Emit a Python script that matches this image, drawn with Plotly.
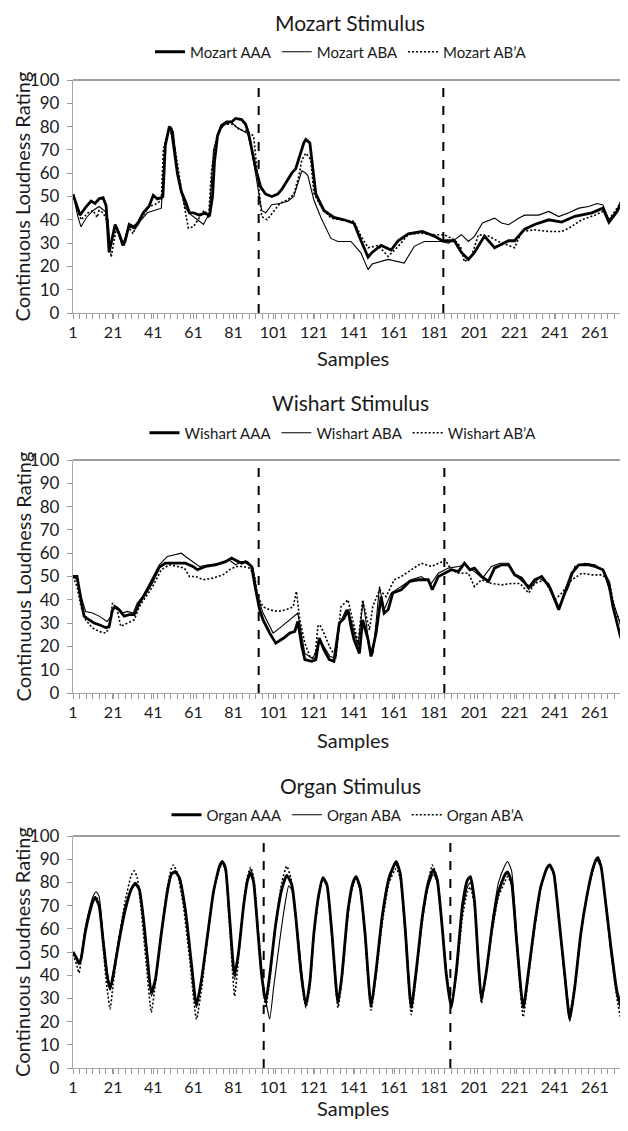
import plotly.graph_objects as go

# ---------------- DATA ----------------
mozart_aaa_x = [1, 3, 4.5, 7, 10, 12, 14, 16, 17.5, 19, 20, 22, 24, 26, 27, 29, 31, 33, 36, 39, 41, 43, 45, 45.8, 47, 49, 50, 51.5, 53, 55, 57, 59, 61, 64, 67, 69, 70.5, 71.5, 73, 75, 77.5, 80, 82, 85, 87, 88.5, 90, 92, 94.5, 97, 100, 103, 105, 107, 110, 112, 114, 116, 117, 119, 120.5, 122, 126, 131, 136, 141, 144.5, 148, 150, 154.5, 159.5, 163, 168, 175, 181, 185, 191, 194.5, 198, 201, 206, 211, 218, 221, 226, 231, 238, 244.5, 251, 259.5, 265, 268, 272, 275, 278.5]
mozart_aaa_y = [51, 46, 42, 45, 48, 47, 49, 49.5, 46, 26, 30, 38, 34, 29, 31, 38, 37, 38, 43, 46, 50.5, 49, 49.5, 50, 72, 80, 79, 70, 60, 52, 48, 43, 43, 42, 43, 41.5, 50, 65, 76, 80.5, 82, 82, 83.5, 83, 81, 77, 70, 62, 54, 51, 50, 51, 53, 56, 60, 62, 68, 73, 74.5, 73, 62, 51, 44, 41, 40, 38.5, 31, 24, 26, 29, 27, 31, 34, 35, 33, 31, 31, 26, 23, 26, 33, 28, 31, 31, 36, 38, 40, 39, 41.5, 43, 45, 39, 43.5, 48.5, 40]

mozart_aba_x = [1, 3.5, 5, 7.7, 11, 14, 17, 18.5, 19.5, 22, 25.5, 29, 32, 35, 38, 41, 45, 46, 47, 49, 51, 52.5, 54, 57, 60, 63, 66, 69, 70, 71, 74, 77, 80, 82, 86, 88, 90, 93, 95, 97, 100, 104, 108, 111, 113, 115, 117, 118, 121, 124.5, 129.5, 133, 139.5, 144.5, 148, 150, 158, 163, 166, 171, 176, 184.5, 188, 191, 194.5, 198, 201, 205, 211, 214.5, 218, 223, 226, 233, 238, 243, 248, 253, 258, 262, 265, 268, 272, 275, 278.5]
mozart_aba_y = [51, 41, 37, 41, 44, 45.7, 43.6, 40, 28, 38, 29, 37, 36, 40, 43, 44, 45, 60, 73.5, 79, 78, 65, 55, 45, 42, 40, 38, 43, 55, 70, 79, 81, 82, 80, 78, 77, 70, 55, 44, 43, 46.5, 47, 48, 50, 56, 61, 60, 59, 48.5, 41, 32, 30.7, 30.7, 25.7, 18.6, 21, 23, 22, 21.4, 28.6, 30.7, 30.7, 30, 31.4, 33.6, 30.7, 32.9, 38.6, 40.7, 38.6, 37.9, 40.7, 42, 42, 43.6, 41.4, 43, 45, 45.7, 47, 46.4, 40, 44, 50.7, 44]

mozart_abpa_x = [1, 5, 8.5, 11, 13, 14, 16, 17.7, 20, 22.7, 26, 28.5, 31, 32.7, 36, 39, 43, 45, 46, 49, 51.8, 55, 57.7, 58.5, 61, 64.3, 66, 68.5, 70, 72.7, 76, 81, 84, 87.7, 91, 92.7, 95, 97.7, 101, 104, 108, 111, 113.5, 115, 117, 119.5, 121, 124.5, 129.5, 136, 141, 144.5, 148, 153, 158, 163, 168, 174.5, 181, 186, 191, 194, 196, 199.5, 203, 208, 213, 221, 224.5, 231, 238, 244.5, 248, 254.5, 261, 265, 268, 272, 275, 278.5]
mozart_abpa_y = [51, 40, 43, 44, 41, 44, 43, 40, 24, 37, 29, 37, 34, 38.6, 42, 45.7, 47, 48.6, 70, 80, 71, 53, 40, 36.4, 37, 41, 43.6, 41, 61, 76, 81, 81, 78.6, 78, 76, 61, 41.4, 40, 43.6, 47, 48.6, 51, 58.6, 65.7, 68.6, 65.7, 51.4, 45.7, 40.7, 40, 39.3, 33, 28, 29, 24.3, 28.6, 33.6, 34.3, 33.6, 33.6, 31.4, 28.6, 22, 24.3, 33.6, 33, 30.7, 28, 35, 35.7, 35, 35, 36.4, 40, 42, 43.6, 40, 45, 49, 41.4]

wishart_aaa_x = [1, 3, 5, 6.5, 8, 11.5, 14, 17.5, 19, 20.7, 22, 24, 26.5, 29, 31.5, 34, 36.5, 40, 44, 47, 52, 57, 60.7, 63, 67, 72, 77, 80, 82, 85, 87, 90, 92, 94, 95.7, 99, 102, 106, 109, 111.5, 113, 115, 116.5, 120, 122, 123.7, 126, 128.7, 131, 133.7, 136, 138, 139.5, 141, 143.7, 145.3, 148, 149.5, 152, 154.5, 156, 158, 160.3, 164.5, 168.7, 173, 178, 180, 183, 186, 189.5, 193, 196, 198.7, 201, 204.5, 208, 211, 214.5, 218, 221, 224.5, 228, 231, 234.5, 238.7, 243, 246, 249.5, 253, 258, 261, 265, 268, 270, 273.7, 278]
wishart_aaa_y = [50, 50, 40, 33, 32, 30, 29.3, 28, 28.6, 35.7, 37, 35.7, 33, 33.6, 33.6, 38.6, 42, 47, 54, 55.7, 55.7, 55.7, 54.3, 52.9, 54.3, 55, 56.4, 57.9, 57, 55.7, 56.4, 54.3, 44.3, 35.7, 31.4, 25.7, 21.4, 23.6, 25.7, 26.4, 30.7, 20, 14.3, 13.6, 14.3, 23.6, 18.6, 14.3, 13.6, 30, 32, 35.7, 28.6, 22.9, 17, 31.4, 22.9, 15.7, 25.7, 41.4, 34.3, 35.7, 42.9, 44.3, 47.9, 48.6, 48.6, 44.3, 50, 51.4, 52.9, 52.1, 55.7, 52.9, 53.6, 50, 47.9, 53.6, 55, 55, 50.7, 49.3, 45, 48.6, 50, 45, 35.7, 42.9, 51.4, 55, 55, 54.3, 52.9, 47, 37, 24.3, 14.3]

wishart_aba_x = [1, 3, 5, 7.3, 10.7, 14, 18, 20, 21.5, 23, 25.7, 28, 31, 33, 35.7, 40, 44, 48, 51.5, 55, 57, 60.7, 64, 69, 74, 79, 82, 85, 88, 90.7, 93, 95.7, 98, 100.7, 105, 109, 111.5, 113, 115, 116.5, 120, 121, 124, 129, 132, 133.7, 137, 139.5, 143, 145.5, 148.7, 150.5, 153.7, 156, 159.5, 164.5, 169.5, 174.5, 179.5, 183, 188, 193, 196, 201, 205, 209.5, 213.7, 218, 222, 226, 229.5, 233, 238, 243, 248, 251, 256, 261, 265, 268.7, 273, 278]
wishart_aba_y = [50, 48.6, 41.4, 35, 34.3, 33, 30.7, 33, 37, 37, 34.3, 35, 34.3, 38.6, 41.4, 48.6, 55, 58.6, 59.3, 60, 58.6, 56.4, 54.3, 55, 55.7, 57, 55, 56.4, 56.4, 53.6, 41.4, 34.3, 30, 25.7, 28.6, 31.4, 32.9, 34.3, 24.3, 17, 15, 15.7, 22.9, 15.7, 15, 29.3, 35.7, 31.4, 20, 39.3, 20, 17, 45.7, 35.7, 42.9, 45.7, 48.6, 50, 47, 51.4, 53.6, 54.3, 55, 52.1, 49.3, 54.3, 55.7, 55.7, 50, 47, 45.7, 49.3, 47, 37, 45.7, 54.3, 55.7, 55, 52.9, 42.9, 31.4, 15.7]

wishart_abpa_x = [1, 3, 5, 7.3, 10.7, 14, 17.3, 19, 20.7, 23, 24.8, 28, 31.5, 34, 37.3, 40.7, 45, 49, 53, 56.5, 59, 62.3, 65.7, 70.7, 75.7, 79, 82.3, 85.7, 89, 91.5, 93, 95.7, 99, 103, 107, 110.7, 112.3, 114, 116.5, 119, 121.5, 123, 124, 126, 129.5, 132, 134.5, 138, 140.3, 143, 145.3, 148.7, 150.3, 153.7, 157, 161, 164.5, 169.5, 174.5, 179.5, 183, 186.5, 189.5, 193, 198, 201, 204.5, 209.5, 214.5, 219.5, 223.7, 228, 231, 236, 241, 244.5, 249.5, 254.5, 259.5, 264.5, 268, 271, 274.5, 278.5]
wishart_abpa_y = [50, 45.7, 37, 31.4, 27.9, 26.4, 25.7, 27.9, 38.6, 35.7, 28.6, 30, 31.4, 37, 41.4, 45.7, 52.9, 55, 54.3, 53.6, 50, 50, 48.6, 49.3, 50.7, 52.9, 54.3, 54.3, 53.6, 50, 41.4, 37, 35.7, 35, 35.7, 37, 43.6, 31.4, 21.4, 15.7, 14.3, 28.6, 29.3, 25.7, 18.6, 15.7, 37, 40, 31.4, 21.4, 40, 27, 37, 44.3, 41.4, 48.6, 50, 52.9, 55.7, 54.3, 55.7, 57, 52.9, 51.4, 51.4, 45.7, 48.6, 47, 46.4, 47, 47, 42.9, 47, 48.6, 40, 42.9, 48.6, 51.4, 50.7, 50.7, 48.6, 35.7, 28.6, 22]

organ_aaa_x = [1, 3, 4, 5, 7, 9, 11, 12, 14, 16, 18, 19.5, 21, 24, 27, 30, 32, 34, 36, 38, 40, 42, 45, 48, 50, 52, 54, 57, 60, 62.5, 65, 68, 71, 74, 75.5, 77, 79, 81.5, 83.5, 86, 88, 89.5, 91, 93, 95, 97, 99, 102, 105, 107.5, 110, 112, 114.5, 117, 119, 121, 123.5, 125.5, 127.5, 130, 133, 135, 138, 140.5, 142, 144, 146.5, 149.5, 152, 155, 158.5, 162, 164, 166.5, 169.5, 172, 175, 178, 180.5, 182.5, 185, 187, 189.5, 192, 195, 197.5, 199, 201, 203, 204.5, 207, 210, 213, 216, 217.5, 219.5, 222, 225.3, 228, 231, 234, 237, 238.5, 240.5, 243, 246, 248.5, 251, 254, 257, 260, 262, 264, 266, 269, 272, 274.5, 276.5, 278.5]
organ_aaa_y = [50, 47, 45, 47, 58, 66, 72, 73.5, 70, 55, 40, 34, 40, 55, 68, 77, 79.5, 77, 65, 48, 32.5, 38, 58, 76, 83.5, 84.5, 82, 68, 45, 27, 38, 57, 76, 87, 89, 86, 65, 40, 50, 70, 81, 84, 80, 60, 40, 28.5, 40, 62, 77, 83, 79, 65, 42, 27, 37, 58, 75, 82, 79, 58, 28, 40, 68, 80, 82.5, 78, 58, 26.5, 42, 65, 82, 89, 84, 60, 26, 42, 65, 80, 85.5, 81, 60, 40, 26, 42, 70, 81, 82.5, 72, 45, 29.5, 42, 62, 76, 83, 84.5, 80, 55, 26, 42, 62, 78, 86, 87.5, 84, 65, 40, 21, 35, 58, 74, 86, 90.5, 87, 74, 52, 33, 26, 35, 48]

organ_aba_x = [1, 3, 4, 5, 7, 9, 11, 12.5, 14, 16, 18, 19.5, 21, 24, 27, 30, 32, 34, 36, 38, 40, 42, 45, 48, 50, 52, 54, 57, 60, 62.5, 65, 68, 71, 74, 75.5, 77, 79, 81.5, 83.5, 86, 88, 89.5, 91, 93, 95, 97.5, 99, 101, 104, 106.5, 108.5, 110.5, 113, 117, 119, 121, 123.5, 125.5, 127.5, 130, 133, 135, 138, 140.5, 142, 144, 146.5, 149.5, 152, 155, 158.5, 161.5, 163.5, 166.5, 169.5, 172, 175, 178, 180.5, 182.5, 185, 187, 189.5, 192, 195, 197.5, 199, 201, 203, 204.5, 207, 210, 213, 216, 217.5, 219.5, 222, 225.3, 228, 231, 234, 237, 238.5, 240.5, 243, 246, 248.5, 251, 254, 257, 260, 262.5, 264, 266, 269, 272, 274.5, 276.5, 278.5]
organ_aba_y = [50, 47, 45, 48, 60, 68, 74, 76, 74, 57, 42, 35, 41, 57, 70, 77, 80, 78, 66, 49, 31, 37, 58, 77, 84, 85, 82, 68, 44, 26, 38, 57, 76, 87, 88.5, 85, 64, 38, 50, 71, 82, 85.5, 81, 60, 40, 27, 21, 35, 55, 70, 78.5, 76, 58, 27.5, 37, 58, 75, 81, 79, 58, 29, 40, 67, 79, 82, 78, 58, 27, 42, 66, 83, 88, 85, 62, 27, 42, 64, 78, 83.5, 80, 60, 40, 27, 42, 68, 78, 80, 72, 46, 28, 42, 64, 80, 87, 89, 85, 58, 27, 42, 62, 78, 86, 87.5, 84, 65, 38, 20, 34, 57, 74, 86, 91, 88, 74, 50, 32, 24, 34, 48]

organ_abpa_x = [1, 3, 4, 5, 7, 9, 11, 12.5, 14, 16, 18, 19.5, 21, 24, 27, 30, 31.5, 33, 35, 37.5, 40, 42, 45, 48, 50, 51, 53, 56, 59, 62.5, 65, 68, 71, 74, 75.5, 77, 79, 81.5, 83.5, 86, 88, 89.5, 91, 93, 95, 97, 99, 102, 105, 107.5, 109.5, 112, 114.5, 117, 119, 121, 123.5, 125.5, 127.5, 130, 133, 135, 138, 140.5, 142, 144, 146.5, 149.5, 152, 155, 158.5, 162, 164, 166.5, 169.5, 172, 175, 178, 180, 182.5, 185, 187, 189.5, 192, 195, 197.5, 199, 201, 203, 204.5, 207, 210, 213, 216, 217.5, 219.5, 222, 225.3, 228, 231, 234, 237, 238.5, 240.5, 243, 246, 248.5, 251, 254, 257, 260, 262.5, 264, 266, 269, 272, 274.5, 276.5, 278.5]
organ_abpa_y = [49, 44, 41, 46, 58, 66, 72, 74, 71, 52, 34, 25.5, 36, 56, 72, 83, 85, 82, 68, 45, 24, 36, 58, 78, 86, 87.5, 84, 70, 48, 21, 34, 56, 76, 86, 88.5, 85, 62, 31, 48, 71, 83, 86.5, 82, 62, 42, 26, 38, 62, 80, 87, 82, 64, 40, 26, 35, 57, 74, 81.5, 78, 56, 26, 38, 66, 79, 81.5, 77, 56, 25, 40, 62, 80, 86, 82, 58, 23, 40, 63, 80, 87.5, 82, 60, 42, 28, 40, 65, 76, 78, 70, 44, 28, 42, 60, 74, 80, 82.5, 79, 54, 22, 40, 60, 77, 86, 87, 83, 64, 40, 24, 36, 58, 74, 85, 91, 88, 74, 50, 30, 19.5, 30, 46]

x_tick_vals = [1, 21, 41, 61, 81, 101, 121, 141, 161, 181, 201, 221, 241, 261]
y_tick_vals = [0, 10, 20, 30, 40, 50, 60, 70, 80, 90, 100]

mozart_breaks = [93.5, 185.5]
wishart_breaks = [93.5, 186]
organ_breaks = [96, 189]

titles = ["Mozart Stimulus", "Wishart Stimulus", "Organ Stimulus"]
names = [["Mozart AAA", "Mozart ABA", "Mozart AB\u2019A"],
         ["Wishart AAA", "Wishart ABA", "Wishart AB\u2019A"],
         ["Organ AAA", "Organ ABA", "Organ AB\u2019A"]]

# ---------------- FIGURE ----------------
W, H = 628, 1131
OFF = 8          # page body margin of the html page
FONT = "Lato"
TXT = "#1a1a1a"


def py(v):
    """reference pixel row -> paper fraction"""
    return 1 - (v - OFF) / H


def px(v):
    """reference pixel column -> paper fraction"""
    return (v - OFF) / W


panels = [
    dict(data=[(mozart_aaa_x, mozart_aaa_y), (mozart_aba_x, mozart_aba_y), (mozart_abpa_x, mozart_abpa_y)],
         breaks=mozart_breaks, top=80, bottom=313, title_y=19, legend_y=52, legend_x=341, xlab_y=358,
         right_border=False, smooth=False),
    dict(data=[(wishart_aaa_x, wishart_aaa_y), (wishart_aba_x, wishart_aba_y), (wishart_abpa_x, wishart_abpa_y)],
         breaks=wishart_breaks, top=460, bottom=693, title_y=402, legend_y=433, legend_x=343, xlab_y=740,
         right_border=False, smooth=False),
    dict(data=[(organ_aaa_x, organ_aaa_y), (organ_aba_x, organ_aba_y), (organ_abpa_x, organ_abpa_y)],
         breaks=organ_breaks, top=836, bottom=1068, title_y=785, legend_y=815, legend_x=348, xlab_y=1108,
         right_border=True, smooth=True),
]

styles = [dict(color="black", width=2.8, dash="solid"),
          dict(color="black", width=1.1, dash="solid"),
          dict(color="black", width=1.6, dash="2px,2px")]

fig = go.Figure()
layout = dict(width=W, height=H, margin=dict(l=0, r=0, t=0, b=0, pad=0, autoexpand=False),
              paper_bgcolor="white", plot_bgcolor="white",
              font=dict(family=FONT, color=TXT), shapes=[], annotations=[])

for i, p in enumerate(panels):
    k = "" if i == 0 else str(i + 1)
    xa, ya = "x" + k, "y" + k
    lg = "legend" + k
    for j, (xs, ys) in enumerate(p["data"]):
        ln = dict(styles[j])
        if p["smooth"]:
            ln.update(shape="spline", smoothing=0.5)
        fig.add_trace(go.Scatter(x=xs, y=ys, mode="lines", name=names[i][j],
                                 line=ln, xaxis=xa, yaxis=ya, legend=lg,
                                 hoverinfo="skip"))
    dom = [py(p["bottom"]), py(p["top"])]
    layout["xaxis" + k] = dict(domain=[px(73), px(628)], range=[1, 277.5], anchor=ya,
                               tickmode="array", tickvals=x_tick_vals,
                               ticks="outside", ticklen=5, tickcolor="#999",
                               showline=True, linecolor="#a6a6a6", linewidth=1.3,
                               showgrid=False, zeroline=False, automargin=False,
                               tickfont=dict(size=16, color=TXT, family=FONT),
                               minor=dict(tickmode="linear", tick0=1, dtick=3.25,
                                          ticks="outside", ticklen=5, tickcolor="#999",
                                          showgrid=False),
                               fixedrange=True)
    layout["yaxis" + k] = dict(domain=dom, range=[0, 100], anchor=xa,
                               tickmode="array", tickvals=y_tick_vals,
                               ticks="outside", ticklen=5, tickcolor="#999",
                               showline=True, linecolor="#a6a6a6", linewidth=1.3,
                               showgrid=False, zeroline=False, automargin=False,
                               tickfont=dict(size=17, color=TXT, family=FONT),
                               ticklabelstandoff=4, fixedrange=True)
    layout[lg] = dict(orientation="h", x=px(p["legend_x"]), xanchor="center",
                      y=py(p["legend_y"]), yanchor="middle",
                      font=dict(size=15, color=TXT, family=FONT),
                      itemwidth=30, bgcolor="rgba(0,0,0,0)",
                      tracegroupgap=0)
    layout["shapes"].append(dict(type="line", xref=xa + " domain", yref=ya + " domain",
                                 x0=0, x1=1, y0=1, y1=1,
                                 line=dict(color="#7f7f7f", width=1.5)))
    if p["right_border"]:
        layout["shapes"].append(dict(type="line", xref=xa + " domain", yref=ya + " domain",
                                     x0=1, x1=1, y0=0, y1=1,
                                     line=dict(color="#b0b0b0", width=1)))
    for b in p["breaks"]:
        layout["shapes"].append(dict(type="line", xref=xa, yref=ya + " domain",
                                     x0=b, x1=b, y0=0, y1=1,
                                     line=dict(color="black", width=2, dash="dash")))
    if i == 0:
        layout["annotations"].append(dict(text=titles[i], xref="paper", yref="paper",
                                          x=px(350), y=1.0,
                                          xanchor="center", yanchor="top", showarrow=False,
                                          font=dict(size=21, color=TXT, family=FONT)))
    else:
        layout["annotations"].append(dict(text=titles[i], xref="paper", yref="paper",
                                          x=px(350), y=py(p["title_y"]),
                                          xanchor="center", yanchor="middle", showarrow=False,
                                          font=dict(size=21, color=TXT, family=FONT)))
    layout["annotations"].append(dict(text="Samples", xref="paper", yref="paper",
                                      x=px(353), y=py(p["xlab_y"]),
                                      xanchor="center", yanchor="middle", showarrow=False,
                                      font=dict(size=20, color=TXT, family=FONT)))
    layout["annotations"].append(dict(text="Continuous Loudness Rating", xref="paper", yref="paper",
                                      x=px(22), y=py((p["top"] + p["bottom"]) / 2),
                                      xanchor="center", yanchor="middle", textangle=-90,
                                      showarrow=False,
                                      font=dict(size=20, color=TXT, family=FONT)))

fig.update_layout(**layout)
fig.write_html("out.html")
